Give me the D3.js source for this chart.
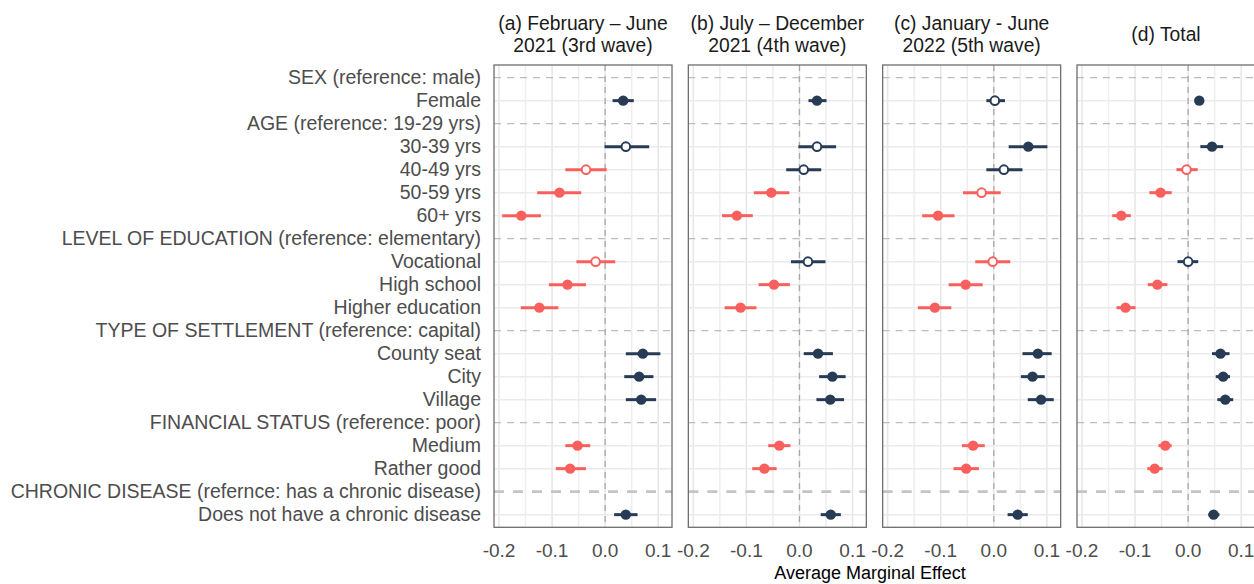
<!DOCTYPE html>
<html>
<head>
<meta charset="utf-8">
<script src="https://cdn.jsdelivr.net/npm/d3@7"></script>
<style>
  body { margin: 0; background: #fff; }
  svg { display: block; font-family: "Liberation Sans", Arial, sans-serif; }
</style>
</head>
<body>
<svg id="chart" width="1254" height="584"></svg>
<script>
// rows, top to bottom (headers are the reference categories)
var rows = ["SEX (reference: male)", "Female",
  "AGE (reference: 19-29 yrs)", "30-39 yrs", "40-49 yrs", "50-59 yrs", "60+ yrs",
  "LEVEL OF EDUCATION (reference: elementary)", "Vocational", "High school", "Higher education",
  "TYPE OF SETTLEMENT (reference: capital)", "County seat", "City", "Village",
  "FINANCIAL STATUS (reference: poor)", "Medium", "Rather good",
  "CHRONIC DISEASE (refernce: has a chronic disease)", "Does not have a chronic disease"];
var headers = [rows[0], rows[2], rows[7], rows[11], rows[15], rows[18]];
var items = rows.filter(function(r){ return headers.indexOf(r) < 0; });

var panelTitles = [["(a) February \u2013 June", "2021 (3rd wave)"],
  ["(b) July \u2013 December", "2021 (4th wave)"],
  ["(c) January - June", "2022 (5th wave)"],
  ["(d) Total"]];

var xTicks = [-0.2, -0.1, 0.0, 0.1];
var xMinor = [-0.15, -0.05, 0.05];

// estimates and 95% CI per panel, same order as items
var estA = [0.034, 0.039, -0.036, -0.086, -0.158, -0.018, -0.071, -0.124, 0.071, 0.064, 0.068, -0.052, -0.066, 0.039];
var loA  = [0.014, -0.001, -0.075, -0.128, -0.194, -0.054, -0.106, -0.159, 0.039, 0.036, 0.039, -0.075, -0.093, 0.017];
var hiA  = [0.054, 0.083, 0.003, -0.045, -0.121, 0.019, -0.036, -0.088, 0.104, 0.091, 0.096, -0.028, -0.036, 0.061];

var estB = [0.033, 0.033, 0.008, -0.053, -0.118, 0.016, -0.048, -0.111, 0.035, 0.062, 0.058, -0.038, -0.066, 0.059];
var loB  = [0.017, -0.002, -0.025, -0.086, -0.146, -0.016, -0.077, -0.141, 0.008, 0.037, 0.032, -0.059, -0.089, 0.040];
var hiB  = [0.051, 0.069, 0.041, -0.019, -0.088, 0.049, -0.018, -0.081, 0.063, 0.087, 0.084, -0.017, -0.043, 0.078];

var estC = [0.002, 0.065, 0.019, -0.023, -0.105, -0.002, -0.053, -0.111, 0.083, 0.073, 0.089, -0.039, -0.052, 0.045];
var loC  = [-0.014, 0.028, -0.014, -0.058, -0.135, -0.035, -0.085, -0.143, 0.054, 0.051, 0.064, -0.060, -0.076, 0.026];
var hiC  = [0.021, 0.101, 0.054, 0.013, -0.074, 0.031, -0.021, -0.080, 0.109, 0.096, 0.113, -0.017, -0.028, 0.064];

var estD = [0.021, 0.045, -0.003, -0.052, -0.126, 0.000, -0.058, -0.118, 0.061, 0.066, 0.070, -0.043, -0.063, 0.048];
var loD  = [0.014, 0.023, -0.022, -0.073, -0.143, -0.020, -0.076, -0.135, 0.045, 0.052, 0.055, -0.056, -0.077, 0.038];
var hiD  = [0.030, 0.066, 0.018, -0.031, -0.108, 0.019, -0.039, -0.099, 0.078, 0.079, 0.085, -0.031, -0.048, 0.059];

var panels = [[estA, loA, hiA], [estB, loB, hiB], [estC, loC, hiC], [estD, loD, hiD]];

var NAVY = "#273b55", RED = "#f9605d";

var svg = d3.select("#chart");

var px = d3.scaleBand().domain(d3.range(4)).range([494, 1255]).paddingInner(0.084);
var x = d3.scaleLinear().domain([-0.2094, 0.126]).range([0, px.bandwidth()]);
var panelTop = 65, panelBottom = 527.3;
var y = d3.scalePoint().domain(rows).range([panelTop, panelBottom]).padding(0.55);

// y labels
svg.append("g").selectAll("text").data(rows).enter().append("text")
  .attr("x", 481).attr("y", function(d){ return y(d); })
  .attr("dy", "0.35em").attr("text-anchor", "end")
  .attr("font-size", 19.5).attr("fill", "#4d4d4d")
  .text(function(d){ return d; });

panels.forEach(function(p, i){
  var g = svg.append("g").attr("transform", "translate(" + px(i) + ",0)");
  var w = px.bandwidth();

  // grid
  g.selectAll(".vminor").data(xMinor).enter().append("line")
    .attr("x1", x).attr("x2", x).attr("y1", panelTop).attr("y2", panelBottom)
    .attr("stroke", "#eeeeee").attr("stroke-width", 1.5);
  g.selectAll(".vmajor").data(xTicks).enter().append("line")
    .attr("x1", x).attr("x2", x).attr("y1", panelTop).attr("y2", panelBottom)
    .attr("stroke", "#e6e6e6").attr("stroke-width", 1.5);
  g.selectAll(".hgrid").data(items).enter().append("line")
    .attr("x1", 0).attr("x2", w).attr("y1", y).attr("y2", y)
    .attr("stroke", "#ebebeb").attr("stroke-width", 1.5);

  // header dashed lines
  g.selectAll(".hdr").data(headers).enter().append("line")
    .attr("x1", 0).attr("x2", w).attr("y1", y).attr("y2", y)
    .attr("stroke", function(d, k){ return k == headers.length - 1 ? "#c4c4c4" : "#bdbdbd"; })
    .attr("stroke-width", function(d, k){ return k == headers.length - 1 ? 2.6 : 1.2; })
    .attr("stroke-dasharray", function(d, k){ return k == headers.length - 1 ? "10,9" : "7,6"; });

  // zero line
  g.append("line").attr("x1", x(0)).attr("x2", x(0)).attr("y1", panelTop).attr("y2", panelBottom)
    .attr("stroke", "#a8a8a8").attr("stroke-width", 1.3).attr("stroke-dasharray", "6,5");

  var data = items.map(function(name, k){
    return {name: name, est: p[0][k], lo: p[1][k], hi: p[2][k]};
  });
  function col(d){ return d.est >= 0 ? NAVY : RED; }
  function sig(d){ return d.lo > 0 || d.hi < 0; }

  g.selectAll(".ci").data(data).enter().append("line")
    .attr("x1", function(d){ return x(d.lo); }).attr("x2", function(d){ return x(d.hi); })
    .attr("y1", function(d){ return y(d.name); }).attr("y2", function(d){ return y(d.name); })
    .attr("stroke", col).attr("stroke-width", 3);

  g.selectAll(".pt").data(data).enter().append("circle")
    .attr("cx", function(d){ return x(d.est); }).attr("cy", function(d){ return y(d.name); })
    .attr("r", function(d){ return sig(d) ? 5.2 : 4.3; })
    .attr("fill", function(d){ return sig(d) ? col(d) : "#fff"; })
    .attr("stroke", col).attr("stroke-width", function(d){ return sig(d) ? 0 : 2; });

  // border
  g.append("rect").attr("x", 0).attr("y", panelTop).attr("width", w).attr("height", panelBottom - panelTop)
    .attr("fill", "none").attr("stroke", "#6e6e6e").attr("stroke-width", 1.3);

  // x tick labels
  g.selectAll(".tick").data(xTicks).enter().append("text")
    .attr("x", x).attr("y", 557).attr("text-anchor", "middle")
    .attr("font-size", 19).attr("fill", "#4d4d4d")
    .text(function(d){ return d3.format(".1f")(d).replace("\u2212", "-"); });

  // strip title
  var t = panelTitles[i];
  var ty = t.length == 1 ? 41 : 30;
  g.selectAll(".strip").data(t).enter().append("text")
    .attr("x", w / 2).attr("y", function(d, k){ return ty + k * 22; })
    .attr("text-anchor", "middle").attr("font-size", 19.3).attr("fill", "#1a1a1a")
    .text(function(d){ return d; });
});

svg.append("text").attr("x", 870).attr("y", 579).attr("text-anchor", "middle")
  .attr("font-size", 18).attr("fill", "#000").text("Average Marginal Effect");
</script>
</body>
</html>
